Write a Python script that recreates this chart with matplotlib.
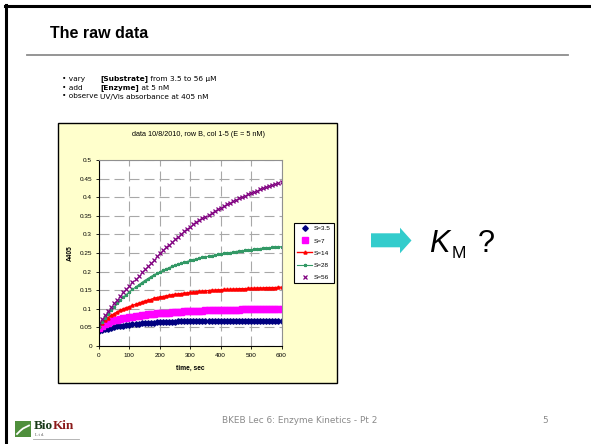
import matplotlib
matplotlib.use("Agg")
import matplotlib.pyplot as plt
from matplotlib.lines import Line2D
from matplotlib.patches import Rectangle, Polygon

# ---------------- data ----------------
time_s = list(range(0, 601, 10))
series_labels = ["S=3.5", "S=7", "S=14", "S=28", "S=56"]

s3_5 = [0.039, 0.042, 0.045, 0.047, 0.049, 0.051, 0.053, 0.054, 0.055, 0.056,
        0.057, 0.058, 0.059, 0.060, 0.061, 0.062, 0.062, 0.063, 0.063, 0.064,
        0.064, 0.064, 0.065, 0.065, 0.065, 0.065, 0.066, 0.066, 0.066, 0.066,
        0.066, 0.066, 0.067, 0.067, 0.067, 0.067, 0.067, 0.067, 0.067, 0.068,
        0.068, 0.068, 0.068, 0.068, 0.068, 0.068, 0.068, 0.068, 0.068, 0.068,
        0.068, 0.068, 0.068, 0.068, 0.068, 0.068, 0.068, 0.068, 0.068, 0.068,
        0.068]
s7 = [0.049, 0.054, 0.059, 0.063, 0.066, 0.069, 0.071, 0.073, 0.075, 0.076,
      0.077, 0.079, 0.080, 0.081, 0.083, 0.084, 0.085, 0.086, 0.087, 0.088,
      0.089, 0.089, 0.090, 0.090, 0.091, 0.091, 0.092, 0.092, 0.093, 0.093,
      0.094, 0.094, 0.095, 0.095, 0.095, 0.096, 0.096, 0.096, 0.097, 0.097,
      0.097, 0.097, 0.098, 0.098, 0.098, 0.098, 0.098, 0.099, 0.099, 0.099,
      0.099, 0.099, 0.099, 0.099, 0.099, 0.099, 0.099, 0.099, 0.099, 0.099,
      0.099]
s14 = [0.054, 0.062, 0.069, 0.076, 0.082, 0.087, 0.092, 0.096, 0.100, 0.103,
       0.106, 0.109, 0.112, 0.115, 0.118, 0.121, 0.123, 0.125, 0.128, 0.130,
       0.132, 0.133, 0.135, 0.136, 0.138, 0.139, 0.140, 0.141, 0.142, 0.143,
       0.144, 0.145, 0.146, 0.147, 0.148, 0.148, 0.149, 0.150, 0.150, 0.151,
       0.151, 0.152, 0.152, 0.152, 0.153, 0.153, 0.154, 0.154, 0.154, 0.155,
       0.155, 0.155, 0.156, 0.156, 0.156, 0.157, 0.157, 0.157, 0.157, 0.158,
       0.158]
s28 = [0.052, 0.064, 0.076, 0.087, 0.097, 0.106, 0.115, 0.123, 0.131, 0.138,
       0.145, 0.152, 0.158, 0.164, 0.170, 0.176, 0.181, 0.186, 0.191, 0.195,
       0.199, 0.203, 0.207, 0.210, 0.214, 0.217, 0.220, 0.222, 0.225, 0.227,
       0.230, 0.232, 0.234, 0.236, 0.238, 0.240, 0.241, 0.243, 0.244, 0.246,
       0.247, 0.249, 0.250, 0.251, 0.252, 0.254, 0.255, 0.256, 0.257, 0.258,
       0.259, 0.260, 0.261, 0.262, 0.263, 0.263, 0.264, 0.265, 0.265, 0.266,
       0.267]
s56 = [0.061, 0.072, 0.083, 0.094, 0.105, 0.115, 0.125, 0.134, 0.144, 0.153,
       0.162, 0.171, 0.180, 0.189, 0.198, 0.207, 0.215, 0.224, 0.232, 0.241,
       0.249, 0.257, 0.265, 0.272, 0.280, 0.287, 0.294, 0.301, 0.308, 0.314,
       0.321, 0.327, 0.332, 0.338, 0.343, 0.348, 0.353, 0.358, 0.363, 0.368,
       0.372, 0.377, 0.381, 0.385, 0.389, 0.393, 0.397, 0.401, 0.404, 0.408,
       0.411, 0.415, 0.418, 0.421, 0.424, 0.427, 0.430, 0.433, 0.436, 0.439,
       0.442]

x_ticks = [0, 100, 200, 300, 400, 500, 600]
y_ticks = [0, 0.05, 0.1, 0.15, 0.2, 0.25, 0.3, 0.35, 0.4, 0.45, 0.5]
y_tick_labels = ["0", "0.05", "0.1", "0.15", "0.2", "0.25", "0.3", "0.35", "0.4", "0.45", "0.5"]

bullet_words = ["\u2022 vary", "\u2022 add", "\u2022 observe"]
bullet_bold = ["[Substrate]", "[Enzyme]", ""]
bullet_rest = [" from 3.5 to 56 \u03bcM", " at 5 nM", "UV/Vis absorbance at 405 nM"]

# ---------------- layout helpers ----------------
W, H = 591, 444
fig = plt.figure(figsize=(W / 100, H / 100), dpi=100)
fig.patch.set_facecolor("white")
renderer = fig.canvas.get_renderer()


def fx(x):
    return x / W


def fy(y):
    return 1 - y / H


ARIAL = ["Liberation Sans", "DejaVu Sans"]
VERD = ["DejaVu Sans"]

# slide border (top and left)
fig.add_artist(Line2D([fx(4.5), 1], [fy(6.5), fy(6.5)], color="black", lw=2.2))
fig.add_artist(Line2D([fx(5.5), fx(5.5)], [fy(5.5), 0], color="black", lw=2.2))

# title and rule
fig.text(fx(50), fy(38), "The raw data", fontsize=11.5, fontweight="bold",
         family=ARIAL, va="baseline", ha="left")
fig.add_artist(Line2D([fx(27), fx(568)], [fy(55), fy(55)], color="#8c8c8c", lw=1.3))

# bullets
bul_y = [80.5, 89.5, 98.5]
BFS = 5.3
col2 = 100
for i in range(3):
    fig.text(fx(62), fy(bul_y[i]), bullet_words[i], fontsize=BFS, family=VERD, va="baseline")
    xpos = col2
    if bullet_bold[i]:
        tb = fig.text(fx(xpos), fy(bul_y[i]), bullet_bold[i], fontsize=BFS, family=VERD,
                      fontweight="bold", va="baseline")
        xpos += tb.get_window_extent(renderer).width
    fig.text(fx(xpos), fy(bul_y[i]), bullet_rest[i], fontsize=BFS, family=VERD, va="baseline")

# chart box
fig.add_artist(Rectangle((fx(58), fy(383)), (337 - 58) / W, (383 - 123) / H,
                         transform=fig.transFigure, facecolor="#FFFFCC",
                         edgecolor="black", lw=1.0, zorder=-1))
fig.text(fx(198), fy(135), "data 10/8/2010, row B, col 1-5 (E = 5 nM)",
         fontsize=5.2, family=ARIAL, ha="center", va="center")

# plot axes
ax = fig.add_axes([fx(99), fy(346), (281.5 - 99) / W, (346 - 160) / H])
ax.set_facecolor("white")

h1, = ax.plot(time_s, s3_5, linestyle="none", marker="D", ms=2.8, color="#000080",
              mec="#000080", label=series_labels[0])
h2, = ax.plot(time_s, s7, linestyle="none", marker="s", ms=3.8, color="#FF00FF",
              mec="#FF00FF", label=series_labels[1])
h3, = ax.plot(time_s, s14, linestyle="-", lw=1.0, marker="^", ms=2.2, color="#FF0000",
              label=series_labels[2])
h4, = ax.plot(time_s, s28, linestyle="-", lw=0.8, marker="*", ms=2.2, color="#339966",
              label=series_labels[3])
h5, = ax.plot(time_s, s56, linestyle="none", marker="x", ms=3.0, mew=0.9, color="#800080",
              label=series_labels[4])

ax.set_xlim(0, 600)
ax.set_ylim(0, 0.5)
ax.set_xticks(x_ticks)
ax.set_xticklabels([str(v) for v in x_ticks])
ax.set_yticks(y_ticks)
ax.set_yticklabels(y_tick_labels)
ax.grid(True, color="#a8a8a8", lw=0.8, linestyle=(0, (9, 4.5)))
ax.set_axisbelow(True)
for s in ["left", "bottom"]:
    ax.spines[s].set_color("black")
    ax.spines[s].set_linewidth(0.8)
for s in ["top", "right"]:
    ax.spines[s].set_color("#909090")
    ax.spines[s].set_linewidth(0.8)
ax.tick_params(direction="out", length=2.5, width=0.6, pad=2.5, labelsize=4.6)
for lab in ax.get_xticklabels() + ax.get_yticklabels():
    lab.set_family(ARIAL)
ax.set_xlabel("time, sec", fontsize=4.8, fontweight="bold", family=ARIAL, labelpad=5)
ax.set_ylabel("A405", fontsize=4.8, fontweight="bold", family=ARIAL, labelpad=4)

leg = fig.legend(handles=[h1, h2, h3, h4, h5], labels=series_labels,
                 loc="center", bbox_to_anchor=(fx(314), fy(253)),
                 bbox_transform=fig.transFigure, frameon=True,
                 fancybox=False, framealpha=1, edgecolor="black",
                 borderpad=0.5, labelspacing=1.05, handlelength=2.4,
                 handletextpad=0.3, borderaxespad=0, prop={"family": ARIAL, "size": 4.6})
leg.get_frame().set_linewidth(0.8)

# arrow
arrow_px = [(371, 233.3), (400, 233.3), (400, 227.7), (411.5, 240.5),
            (400, 253.3), (400, 247.3), (371, 247.3)]
fig.add_artist(Polygon([(fx(x), fy(y)) for x, y in arrow_px], closed=True,
                       transform=fig.transFigure, facecolor="#33CCCC", edgecolor="none"))

# K_M ?
fig.text(fx(429), fy(252), "K", fontsize=22, style="italic", family=ARIAL, va="baseline")
fig.text(fx(452), fy(258), "M", fontsize=12.5, family=ARIAL, va="baseline")
fig.text(fx(478), fy(252), "?", fontsize=22, family=ARIAL, va="baseline")

# footer
fig.text(fx(300), fy(420), "BKEB Lec 6: Enzyme Kinetics - Pt 2", fontsize=6.4,
         family=VERD, color="#8a8a8a", ha="center", va="center")
fig.text(fx(545), fy(420), "5", fontsize=6.4, family=VERD, color="#8a8a8a",
         ha="center", va="center")

# BioKin logo
fig.add_artist(Rectangle((fx(15), fy(437)), 16 / W, 16 / H, transform=fig.transFigure,
                         facecolor="#4f8f3c", edgecolor="none"))
sw_x = [17, 20, 23, 26, 29]
sw_y = [434, 431, 428.5, 427, 425.5]
fig.add_artist(Line2D([fx(v) for v in sw_x], [fy(v) for v in sw_y], color="white", lw=1.3))
SERIF = ["Liberation Serif", "DejaVu Serif"]
tb = fig.text(fx(34), fy(429), "Bio", fontsize=9.5, family=SERIF, fontweight="bold",
              color="#1a3a1a", va="baseline")
fig.text(fx(34) + tb.get_window_extent(renderer).width / W, fy(429), "Kin", fontsize=9.5,
         family=SERIF, fontweight="bold", color="#8b1a1a", va="baseline")
fig.text(fx(35), fy(436), "L t d.", fontsize=3.2, family=SERIF, color="#555555", va="baseline")
fig.add_artist(Line2D([fx(33), fx(79)], [fy(439), fy(439)], color="#aaaaaa", lw=0.6))

fig.savefig("out.png", dpi=100)
